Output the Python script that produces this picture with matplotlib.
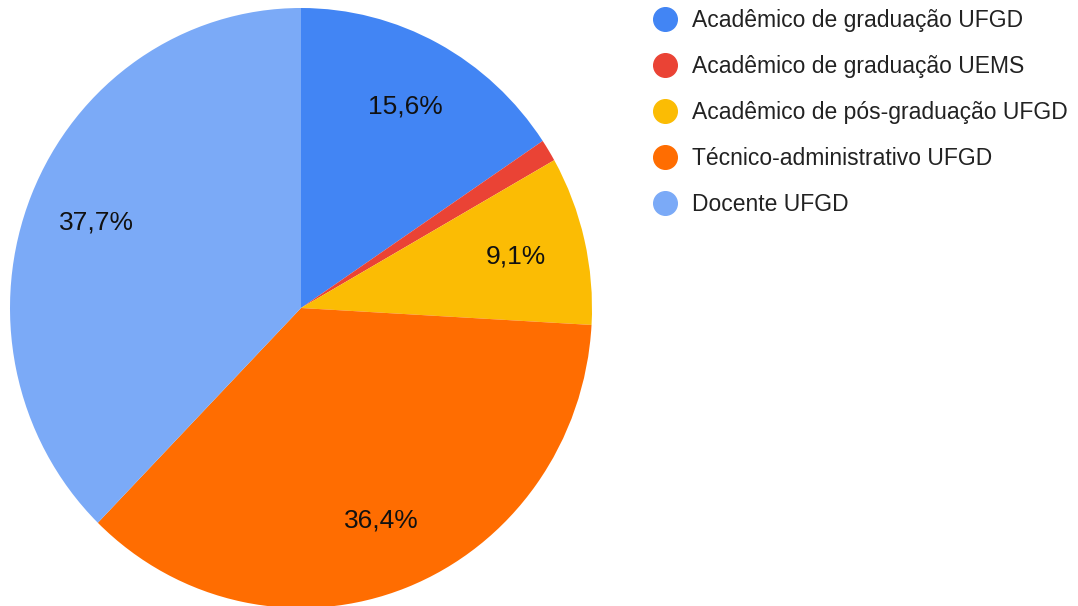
import matplotlib
matplotlib.use("Agg")
import matplotlib.pyplot as plt
from matplotlib.lines import Line2D

categories = ["Acadêmico de graduação UFGD", "Acadêmico de graduação UEMS",
              "Acadêmico de pós-graduação UFGD", "Técnico-administrativo UFGD",
              "Docente UFGD"]
values = [15.6, 1.2, 9.1, 36.4, 37.7]
colors = ["#4285F4", "#EA4335", "#FBBC04", "#FF6D01", "#7BAAF7"]

W, H = 1078, 606
fig = plt.figure(figsize=(W / 100, H / 100), dpi=100)
plt.rcParams['font.family'] = ['Liberation Sans', 'DejaVu Sans']

# axes placed so the pie spans x 10..592 px and y 8..608 px (from top)
left, right = 10, 592
top, bottom = 8, 608
ax = fig.add_axes([left / W, (H - bottom) / H, (right - left) / W, (bottom - top) / H])

def fmt(p):
    return (f"{p:.1f}%".replace('.', ',')) if p >= 5 else ""

wedges, texts, autotexts = ax.pie(values, colors=colors, startangle=90, counterclock=False,
                                  autopct=fmt, pctdistance=0.76, radius=1.0,
                                  wedgeprops=dict(linewidth=0),
                                  textprops=dict(fontsize=19, color="#111111"))
ax.set_aspect('auto')
ax.set_xlim(-1, 1)
ax.set_ylim(-1, 1)
ax.axis('off')

handles = [Line2D([0], [0], marker='o', linestyle='', markersize=17,
                  markerfacecolor=c, markeredgecolor=c) for c in colors]
fig.legend(handles, categories, loc='upper left',
           bbox_to_anchor=(651 / W, 1 - 9 / H), frameon=False,
           fontsize=16.5, labelcolor="#222222", handletextpad=0.6,
           labelspacing=1.0, borderaxespad=0, borderpad=0, handlelength=1.2)

fig.savefig("out.png", dpi=100)
